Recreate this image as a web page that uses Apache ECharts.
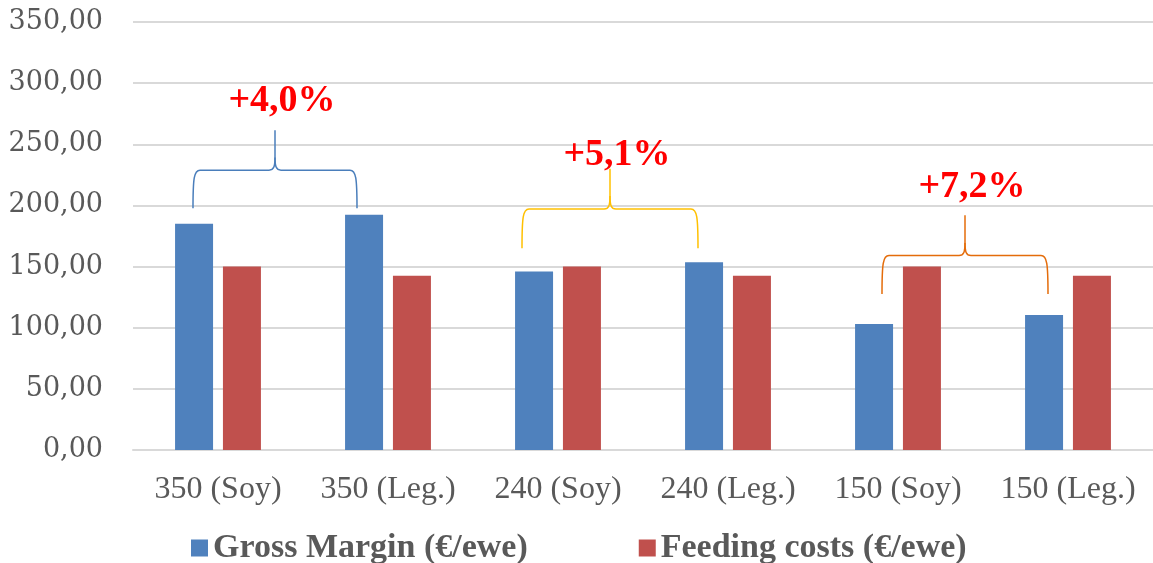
<!DOCTYPE html>
<html>
<head>
<meta charset="utf-8">
<script src="https://cdn.jsdelivr.net/npm/echarts@6/dist/echarts.min.js"></script>
<style>
  html, body { margin: 0; padding: 0; background: #fff; }
  #main { width: 1153px; height: 563px; }
</style>
</head>
<body>
<div id="main"></div>
<script>
var categories = ['350 (Soy)', '350 (Leg.)', '240 (Soy)', '240 (Leg.)', '150 (Soy)', '150 (Leg.)'];
var grossMargin = [185.0, 192.4, 146.0, 153.5, 103.0, 110.4];
var feedingCosts = [150.0, 142.4, 150.0, 142.4, 150.0, 142.4];
var yTicks = [0, 50, 100, 150, 200, 250, 300, 350];

// brace annotations: from category, to category, bottom / bar / peak values, label value
var braceLabels = ['+4,0%', '+5,1%', '+7,2%'];
var braceFrom = [0, 2, 4];
var braceTo = [1, 3, 5];
var braceBottom = [197.7, 165, 127.5];
var braceMid = [228.8, 197, 159];
var bracePeak = [261.5, 230, 192];
var braceLabelAt = [285, 241, 215];
var braceColors = ['#4a7ebb', '#ffc000', '#e46c0a'];

var myChart = echarts.init(document.getElementById('main'));

var option = {
    animation: false,
    color: ['#4f81bd', '#c0504d'],
    grid: {
        left: 133,
        right: 0,
        top: 22,
        bottom: 113
    },
    legend: {
        left: 186,
        top: 526,
        itemWidth: 17,
        itemHeight: 17,
        itemGap: 111,
        icon: 'rect',
        textStyle: {
            fontFamily: 'Liberation Serif',
            fontWeight: 'bold',
            fontSize: 34,
            color: '#595959'
        },
        data: ['Gross Margin (€/ewe)', 'Feeding costs (€/ewe)']
    },
    xAxis: {
        type: 'category',
        data: categories,
        axisTick: { show: false },
        axisLine: { lineStyle: { color: '#d9d9d9', width: 2 } },
        axisLabel: {
            interval: 0,
            margin: 24,
            fontFamily: 'Liberation Serif',
            fontSize: 32,
            color: '#595959'
        }
    },
    yAxis: {
        type: 'value',
        min: yTicks[0],
        max: yTicks[yTicks.length - 1],
        interval: 50,
        axisLine: { show: false },
        axisTick: { show: false },
        splitLine: { lineStyle: { color: '#d9d9d9', width: 2 } },
        axisLabel: {
            margin: 30,
            fontFamily: 'DejaVu Serif',
            fontSize: 27,
            color: '#595959',
            formatter: function (v) { return v.toFixed(2).replace('.', ','); }
        }
    },
    series: [
        {
            name: 'Gross Margin (€/ewe)',
            type: 'bar',
            barWidth: 38,
            barGap: '26%',
            data: grossMargin
        },
        {
            name: 'Feeding costs (€/ewe)',
            type: 'bar',
            barWidth: 38,
            barGap: '26%',
            data: feedingCosts
        }
    ]
};

myChart.setOption(option);

// braces drawn from the axis scales, over the blue bars
function curve(ax, ay, c1x, c1y, c2x, c2y, bx, by, color) {
    return {
        type: 'bezierCurve',
        shape: { x1: ax, y1: ay, cpx1: c1x, cpy1: c1y, cpx2: c2x, cpy2: c2y, x2: bx, y2: by },
        style: { fill: null, stroke: color, lineWidth: 1.5 }
    };
}
function line(ax, ay, bx, by, color) {
    return {
        type: 'line',
        shape: { x1: ax, y1: ay, x2: bx, y2: by },
        style: { stroke: color, lineWidth: 1.5 }
    };
}

var leftShift = [-25, -36, -16];
var rightShift = [-31, -30, -20];
var elements = [];
for (var i = 0; i < braceLabels.length; i++) {
    var x0 = myChart.convertToPixel({ xAxisIndex: 0 }, braceFrom[i]) + leftShift[i];
    var x1 = myChart.convertToPixel({ xAxisIndex: 0 }, braceTo[i]) + rightShift[i];
    var yb = myChart.convertToPixel({ yAxisIndex: 0 }, braceBottom[i]);
    var yh = myChart.convertToPixel({ yAxisIndex: 0 }, braceMid[i]);
    var yp = myChart.convertToPixel({ yAxisIndex: 0 }, bracePeak[i]);
    var yt = myChart.convertToPixel({ yAxisIndex: 0 }, braceLabelAt[i]);
    var xc = (x0 + x1) / 2;
    var c = braceColors[i];
    elements.push(curve(x0, yb, x0, yh + 8, x0 + 1, yh, x0 + 7, yh, c));
    elements.push(line(x0 + 7, yh, xc - 6, yh, c));
    elements.push(curve(xc - 6, yh, xc - 1, yh, xc, yh - 4, xc, yh - 13, c));
    elements.push(line(xc, yh - 13, xc, yp, c));
    elements.push(curve(xc, yh - 13, xc, yh - 4, xc + 1, yh, xc + 6, yh, c));
    elements.push(line(xc + 6, yh, x1 - 7, yh, c));
    elements.push(curve(x1 - 7, yh, x1 - 1, yh, x1, yh + 8, x1, yb, c));
    elements.push({
        type: 'text',
        x: xc + 7,
        y: yt,
        style: {
            text: braceLabels[i],
            fill: '#ff0000',
            font: 'bold 38px "Liberation Serif"',
            align: 'center',
            verticalAlign: 'middle'
        }
    });
}
myChart.setOption({ graphic: { elements: elements } });
</script>
</body>
</html>
